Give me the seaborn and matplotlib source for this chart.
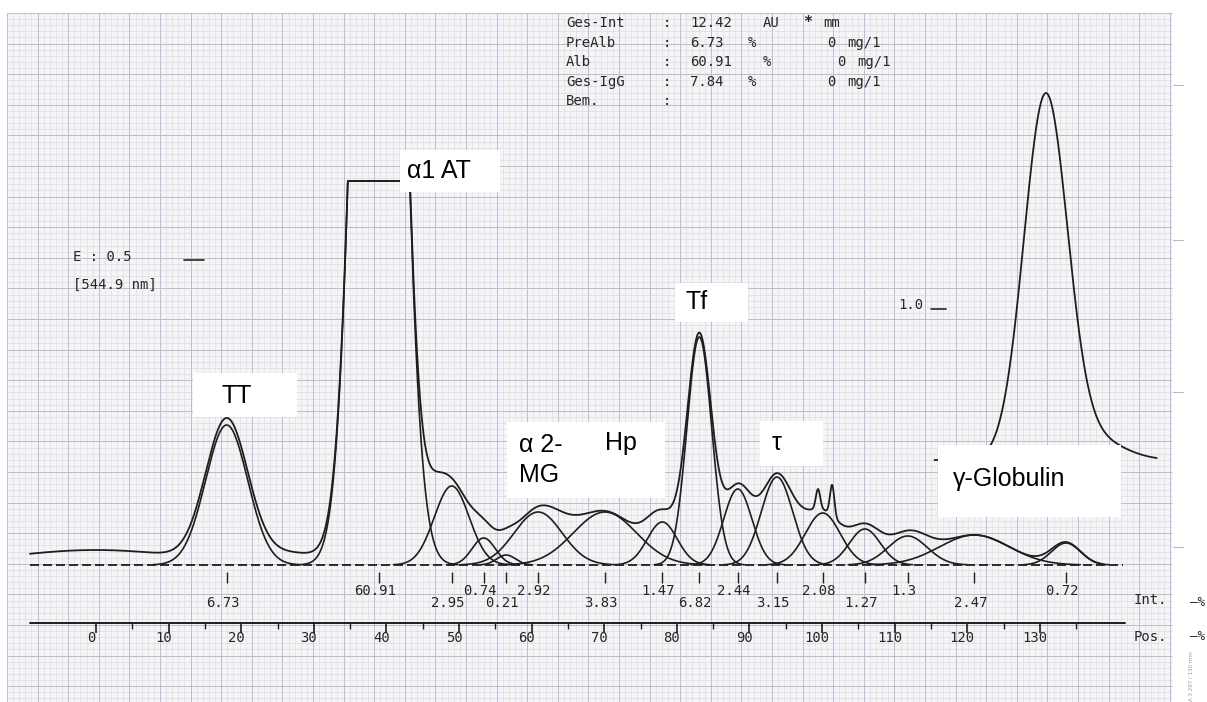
import numpy as np
import pandas as pd
import matplotlib
matplotlib.use("Agg")
import matplotlib.pyplot as plt
import matplotlib.transforms as mtransforms
from matplotlib.patches import Rectangle
import seaborn as sns

# ---------------- data ----------------
# fitted fractions: position (Pos. scale), peak height (arbitrary units), width (Pos. units)
frac_pos = [18.0, 38.95, 49.0, 53.4, 56.5, 60.9, 70.1, 78.0, 83.1, 88.4, 93.8, 100.1, 105.9, 111.8, 121.0, 133.6]
frac_height = [1.40, 13.98, 0.79, 0.27, 0.10, 0.53, 0.53, 0.43, 2.28, 0.76, 0.88, 0.52, 0.36, 0.29, 0.30, 0.22]
frac_sigma = [2.9, 2.65, 2.4, 1.6, 1.3, 3.3, 4.35, 2.06, 1.7, 1.94, 2.16, 2.4, 2.13, 2.7, 4.8, 2.0]
frac_int_pct = [6.73, 60.91, 2.95, 0.74, 0.21, 2.92, 3.83, 1.47, 6.82, 2.44, 3.15, 2.08, 1.27, 1.3, 2.47, 0.72]

# measured trace: extra terms on top of the fitted fractions (drift, albumin tail, spikes)
resid_pos = [0.0, 27.0, 46.5, 97.2, 99.45, 101.4]
resid_height = [0.15, 0.11, 0.25, 0.08, 0.20, 0.31]
resid_sigma = [12.0, 5.0, 1.5, 1.5, 0.3, 0.3]
trace_start, trace_end = -9.1, 138.7
clip_top = 3.84  # recorder saturation

# gamma-globulin trace
gamma_base = 1.05
gamma_pos = [130.8, 137.5]
gamma_height = [3.62, 0.20]
gamma_sigma = [3.0, 4.0]
gamma_start, gamma_end = 115.5, 146.1

pos_ticks = [0, 10, 20, 30, 40, 50, 60, 70, 80, 90, 100, 110, 120, 130]
pos_minor = [5, 15, 25, 35, 45, 55, 65, 75, 85, 95, 105, 115, 125, 135]

summary_names = ["Ges-Int", "PreAlb", "Alb", "Ges-IgG", "Bem."]
summary_values = ["12.42", "6.73", "60.91", "7.84", ""]
summary_units = ["AU", "%", "%", "%", ""]
summary_conc = ["", "0", "0", "0", ""]

annotations = ["TT", "\u03b11 AT", "\u03b1 2-\nMG", "Hp", "Tf", "\u03c4", "\u03b3-Globulin"]

# ---------------- figure / coordinate helpers ----------------
sns.set_theme(style="white")
plt.rcParams['font.family'] = ['Liberation Sans', 'DejaVu Sans']

W, H = 1207, 702
PX0, PXS = 96.0, 7.26     # pixel of Pos 0, pixels per Pos unit
BASE_PY, PYS = 565.0, 100.0

fig = plt.figure(figsize=(W / 100, H / 100), dpi=100)
fig.patch.set_facecolor("white")
ax = fig.add_axes([0, 0, 1, 1])
ax.set_xlim((0 - PX0) / PXS, (W - PX0) / PXS)
ax.set_ylim((BASE_PY - H) / PYS, BASE_PY / PYS)
ax.axis("off")

pix = mtransforms.Affine2D().scale(1 / W, -1 / H).translate(0, 1) + ax.transAxes
bt = mtransforms.blended_transform_factory(ax.transData, pix)

# ---------------- paper ----------------
paper_l, paper_t, paper_r, paper_b = 7, 13, 1172, 702
ax.add_patch(Rectangle((paper_l, paper_t), paper_r - paper_l, paper_b - paper_t,
                       transform=pix, facecolor="#f5f5f7", edgecolor="none", zorder=0))
step = 30.6
minor_x = np.arange(paper_l, paper_r, step / 5)
minor_y = np.arange(paper_t, paper_b, step / 5)
ax.vlines(minor_x, paper_t, paper_b, transform=pix, colors="#e0e0e5", lw=0.5, zorder=0.5)
ax.hlines(minor_y, paper_l, paper_r, transform=pix, colors="#dcdce0", lw=0.5, zorder=0.5)
major_x = np.arange(paper_l, paper_r, step)
major_y = np.arange(paper_t, paper_b, step)
ax.vlines(major_x, paper_t, paper_b, transform=pix, colors="#c0bbdc", lw=0.7, zorder=0.6)
ax.hlines(major_y, paper_l, paper_r, transform=pix, colors="#bdbdc2", lw=0.7, zorder=0.6)
for yy in [85, 240, 392, 547]:
    ax.plot([1173, 1183], [yy, yy], transform=pix, color="#bbbbbb", lw=0.8, zorder=1)

line_col = "#1e1e1e"


def gauss(x, c, h, s):
    return h * np.exp(-0.5 * ((x - c) / s) ** 2)


# ---------------- curves ----------------
x_env = np.linspace(trace_start, trace_end, 3500)
y_env = np.zeros_like(x_env)
for c, h, s in zip(frac_pos, frac_height, frac_sigma):
    y_env += gauss(x_env, c, h, s)
for c, h, s in zip(resid_pos, resid_height, resid_sigma):
    y_env += gauss(x_env, c, h, s)
y_env = np.minimum(y_env, clip_top)
sns.lineplot(x=x_env, y=y_env, ax=ax, color=line_col, lw=1.3, sort=False,
             estimator=None, zorder=3)

for c, h, s in zip(frac_pos, frac_height, frac_sigma):
    half = s * np.sqrt(2 * np.log(h / 0.003))
    xc = np.linspace(c - half, c + half, 500)
    yc = np.minimum(gauss(xc, c, h, s), clip_top)
    sns.lineplot(x=xc, y=yc, ax=ax, color=line_col, lw=1.2, sort=False,
                 estimator=None, zorder=3)

x_g = np.linspace(gamma_start, gamma_end, 800)
y_g = np.full_like(x_g, gamma_base)
for c, h, s in zip(gamma_pos, gamma_height, gamma_sigma):
    y_g += gauss(x_g, c, h, s)
sns.lineplot(x=x_g, y=y_g, ax=ax, color=line_col, lw=1.3, sort=False,
             estimator=None, zorder=3)

# dashed baseline
ax.plot([trace_start, 141.5], [0, 0], color=line_col, lw=1.3, ls=(0, (5, 2.2)), zorder=3)

# ---------------- fraction markers and percentages ----------------
mono = "DejaVu Sans Mono"
txt_col = "#262626"
ax.vlines(frac_pos, 572, 583, transform=bt, colors=line_col, lw=1.0, zorder=3)
for i, (c, v) in enumerate(zip(frac_pos, frac_int_pct)):
    yrow = 603 if i % 2 == 0 else 591
    t = ax.text(c, yrow, f"{v:g}", transform=bt, ha="center", va="center",
                family=mono, fontsize=10, color=txt_col, zorder=4)
    t.set_transform(bt + mtransforms.Affine2D().translate(-4, 0))

# ---------------- position axis ----------------
axis_py = 623
ax.plot([trace_start, 141.7], [axis_py, axis_py], transform=bt, color=line_col, lw=1.4, zorder=3)
ax.vlines(pos_ticks, axis_py, axis_py + 10, transform=bt, colors=line_col, lw=1.2, zorder=3)
ax.vlines(pos_minor, axis_py, axis_py + 6, transform=bt, colors=line_col, lw=1.0, zorder=3)
for p in pos_ticks:
    t = ax.text(p, 638, str(p), transform=bt, ha="center", va="center",
                family=mono, fontsize=10, color=txt_col, zorder=4)
    t.set_transform(bt + mtransforms.Affine2D().translate(-5, 0))

ax.text(1134, 600, "Int.", transform=pix, ha="left", va="center", family=mono,
        fontsize=10, color=txt_col)
ax.text(1205, 603, "\u2013%", transform=pix, ha="right", va="center", family=mono,
        fontsize=9, color=txt_col)
ax.text(1134, 637, "Pos.", transform=pix, ha="left", va="center", family=mono,
        fontsize=10, color=txt_col)
ax.text(1205, 637, "\u2013%", transform=pix, ha="right", va="center", family=mono,
        fontsize=9, color=txt_col)
ax.text(1191, 676, "A 3 297 / 130 mm", transform=pix, ha="center", va="center",
        rotation=90, family="DejaVu Sans", fontsize=4, color="#999999")

# ---------------- header block ----------------
rows_y = [23, 43, 62, 82, 101]
unit_x = [763, 748, 763, 748, 0]
conc_x = [0, 827, 837, 827, 0]
for i, yy in enumerate(rows_y):
    kw = dict(transform=pix, ha="left", va="center", family=mono, fontsize=10, color=txt_col)
    ax.text(566, yy, summary_names[i], **kw)
    ax.text(663, yy, ":", **kw)
    if summary_values[i]:
        ax.text(690, yy, summary_values[i], **kw)
        ax.text(unit_x[i], yy, summary_units[i], **kw)
    if summary_conc[i]:
        ax.text(conc_x[i], yy, summary_conc[i], **kw)
        ax.text(conc_x[i] + 20, yy, "mg/1", **kw)
ax.text(803, 23, "*", transform=pix, ha="left", va="center", family=mono,
        fontsize=11, fontweight="bold", color=txt_col)
ax.text(823, 23, "mm", transform=pix, ha="left", va="center", family=mono,
        fontsize=10, color=txt_col)

# scale notes
ax.text(73, 257, "E : 0.5", transform=pix, ha="left", va="center", family=mono,
        fontsize=10, color=txt_col)
ax.plot([184, 204], [260, 260], transform=pix, color=txt_col, lw=1.2)
ax.text(73, 285, "[544.9 nm]", transform=pix, ha="left", va="center", family=mono,
        fontsize=10, color=txt_col)
ax.text(898, 305, "1.0", transform=pix, ha="left", va="center", family=mono,
        fontsize=10, color=txt_col)
ax.plot([931, 946], [309, 309], transform=pix, color=txt_col, lw=1.2)

# ---------------- annotation boxes ----------------
boxes = [(193, 373, 104, 44), (400, 150, 100, 42), (507, 422, 158, 76),
         (675, 283, 73, 39), (760, 421, 63, 45), (938, 445, 183, 72)]
for (bx, by, bw, bh) in boxes:
    ax.add_patch(Rectangle((bx, by), bw, bh, transform=pix, facecolor="white",
                           edgecolor="none", zorder=5))
label_xy = [(221, 396), (407, 171), (519, 460), (605, 443), (685, 302), (772, 443), (953, 479)]
for txt, (tx, ty) in zip(annotations, label_xy):
    ax.text(tx, ty, txt, transform=pix, ha="left", va="center", fontsize=18,
            color="black", zorder=6, linespacing=1.3)

fig.savefig("out.png", dpi=100, facecolor="white")
